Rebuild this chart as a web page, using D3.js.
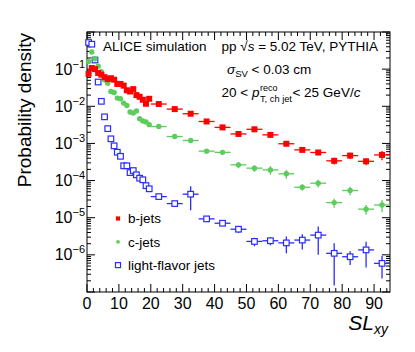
<!DOCTYPE html>
<html>
<head>
<meta charset="utf-8">
<script src="https://cdn.jsdelivr.net/npm/d3@7"></script>
<style>
  body { margin: 0; background: #fff; }
  text { font-family: 'Liberation Sans', Arial, Helvetica, sans-serif; fill: #000; }
</style>
</head>
<body>
<svg></svg>
<script>
// bin centres
const fineCenters = [0.5, 1.5, 2.5, 3.5, 4.5, 5.5, 6.5, 7.5, 8.5, 9.5, 10.5, 11.5, 12.5, 13.5, 14.5, 15.5, 16.5, 17.5, 18.5, 19.5]
const wideCenters = [22.5, 27.5, 32.5, 37.5, 42.5, 47.5, 52.5, 57.5, 62.5, 67.5, 72.5, 77.5, 82.5, 87.5, 92.5]
const fineBinWidth = 1
const wideBinWidth = 5

// b-jets
const bFine = [0.075, 0.107, 0.100, 0.079, 0.071, 0.061, 0.054, 0.057, 0.052, 0.040, 0.040, 0.036, 0.027, 0.025, 0.029, 0.020, 0.018, 0.015, 0.0117, 0.0159]
const bWide = [0.0115, 0.0084, 0.0063, 0.0039, 0.0027, 0.0018, 0.0024, 0.0017, 0.00098, 0.00067, 0.00057, 0.00034, 0.00047, 0.00033, 0.00049]
const bWideErr = [0.0003, 0.00025, 0.0002, 0.00015, 0.00012, 0.0001, 0.00014, 0.00012, 0.00009, 0.00008, 0.00009, 0.00007, 0.00009, 0.00007, 0.00014]

// c-jets
const cFine = [0.16, 0.29, 0.19, 0.12, 0.085, 0.052, 0.042, 0.025, 0.0235, 0.0166, 0.0159, 0.0122, 0.0105, 0.0070, 0.0066, 0.0075, 0.0046, 0.0040, 0.0038, 0.0032]
const cWide = [0.00285, 0.00153, 0.0012, 0.00062, 0.000575, 0.000265, 0.000216, 0.000194, 0.000152, 6.6e-5, 8.5e-5, 2.55e-5, 5.4e-5, 1.7e-5, 2.2e-5]
const cWideErr = [1e-4, 7e-5, 6e-5, 4e-5, 4e-5, 5e-5, 4.5e-5, 5e-5, 4e-5, 1.3e-5, 2e-5, 7e-6, 1.4e-5, 5e-6, 8e-6]

// light-flavor jets
const lFine = [0.52, 0.47, 0.176, 0.045, 0.0136, 0.0052, 0.0025, 0.00133, 0.00086, 0.00058, 0.00045, 0.00025, 0.00025, 0.000164, 0.000186, 0.000143, 0.000116, 0.000105, 7.3e-5, 6e-5]
const lWide = [3.7e-5, 2.4e-5, 4.3e-5, 9.3e-6, 7.1e-6, 4.9e-6, 2.3e-6, 2.4e-6, 2.1e-6, 2.5e-6, 3.4e-6, 1.1e-6, 8.9e-7, 1.36e-6, 5.9e-7]
const lWideErr = [4e-6, 3e-6, 2.7e-5, 1.6e-6, 1e-6, 1e-6, 6e-7, 6e-7, 1e-6, 1.1e-6, 2.4e-6, 9.5e-7, 3.6e-7, 9e-7, 3.6e-7]

// axes
const xTicks = [0, 10, 20, 30, 40, 50, 60, 70, 80, 90]
const yDecades = [1e-7, 1e-6, 1e-5, 1e-4, 1e-3, 1e-2, 1e-1, 1]
const yLabels = [1e-6, 1e-5, 1e-4, 1e-3, 1e-2, 1e-1]
const legendLabels = ['b-jets', 'c-jets', 'light-flavor jets']

const width = 415,
  height = 352
const frame = { left: 87, top: 32, right: 390, bottom: 292 }

const red = '#ff0000',
  green = '#5ccd5c',
  blue = '#2b2bff'

const svg = d3.select('svg')
  .attr('width', width)
  .attr('height', height)

svg.append('rect')
  .attr('width', width)
  .attr('height', height)
  .attr('fill', '#fff')

const x = d3.scaleLinear()
  .domain([0, 95])
  .range([frame.left, frame.right])

const y = d3.scaleLog()
  .domain([1e-7, 1])
  .range([frame.bottom, frame.top])

const xMinor = d3.range(0, 95, 2).filter(v => v % 10 !== 0)
const yMinor = []
yDecades.slice(0, -1).forEach(d => {
  for (let k = 2; k <= 9; k++) yMinor.push(d * k)
})

// ticks on all four sides, pointing inwards
const tickGroup = svg.append('g')
  .attr('stroke', '#000')
  .attr('stroke-width', 1)

function tickLines(vals, len, side) {
  tickGroup.selectAll(null)
    .data(vals)
    .enter().append('line')
    .attr('x1', d => side === 'bottom' || side === 'top' ? x(d) : side === 'left' ? frame.left : frame.right)
    .attr('x2', d => side === 'bottom' || side === 'top' ? x(d) : side === 'left' ? frame.left + len : frame.right - len)
    .attr('y1', d => side === 'bottom' ? frame.bottom : side === 'top' ? frame.top : y(d))
    .attr('y2', d => side === 'bottom' ? frame.bottom - len : side === 'top' ? frame.top + len : y(d))
}

tickLines(xTicks, 8, 'bottom')
tickLines(xMinor, 4, 'bottom')
tickLines(xTicks, 8, 'top')
tickLines(xMinor, 4, 'top')
tickLines(yDecades, 8, 'left')
tickLines(yMinor, 4, 'left')
tickLines(yDecades, 8, 'right')
tickLines(yMinor, 4, 'right')

svg.append('rect')
  .attr('x', frame.left)
  .attr('y', frame.top)
  .attr('width', frame.right - frame.left)
  .attr('height', frame.bottom - frame.top)
  .attr('fill', 'none')
  .attr('stroke', '#000')
  .attr('stroke-width', 1)

// tick labels
svg.selectAll('.x-label')
  .data(xTicks)
  .enter().append('text')
  .attr('class', 'x-label')
  .attr('x', d => x(d))
  .attr('y', frame.bottom + 17)
  .attr('text-anchor', 'middle')
  .style('font-size', '16px')
  .text(d => d)

const yLab = svg.selectAll('.y-label')
  .data(yLabels)
  .enter().append('text')
  .attr('class', 'y-label')
  .attr('x', frame.left - 2)
  .attr('y', d => y(d) + 5.5)
  .attr('text-anchor', 'end')
  .style('font-size', '16px')

yLab.append('tspan').text('10')
yLab.append('tspan')
  .attr('dy', -7)
  .style('font-size', '11px')
  .text(d => '\u2212' + Math.round(-Math.log10(d)))

// axis titles
svg.append('text')
  .attr('transform', `translate(31,${frame.top + 1}) rotate(-90)`)
  .attr('text-anchor', 'end')
  .style('font-size', '19px')
  .text('Probability density')

const xTitle = svg.append('text')
  .attr('x', frame.right - 2)
  .attr('y', 330)
  .attr('text-anchor', 'end')
  .style('font-size', '21px')
  .style('font-style', 'italic')
xTitle.append('tspan').text('SL')
xTitle.append('tspan')
  .attr('dy', 4)
  .style('font-size', '14px')
  .text('xy')

// data
const plot = svg.append('g')

function drawSeries(centers, binWidth, values, errs, color, marker) {
  const pts = centers.map((c, i) => ({ x: c, v: values[i], e: errs ? errs[i] : 0 }))
  const g = plot.append('g')

  g.selectAll('.hbar')
    .data(pts)
    .enter().append('line')
    .attr('x1', d => x(d.x - binWidth / 2))
    .attr('x2', d => x(d.x + binWidth / 2))
    .attr('y1', d => y(d.v))
    .attr('y2', d => y(d.v))
    .attr('stroke', color)
    .attr('stroke-width', 1.3)

  g.selectAll('.vbar')
    .data(pts.filter(d => d.e > 0))
    .enter().append('line')
    .attr('x1', d => x(d.x))
    .attr('x2', d => x(d.x))
    .attr('y1', d => y(Math.max(d.v - d.e, 1e-7)))
    .attr('y2', d => y(d.v + d.e))
    .attr('stroke', color)
    .attr('stroke-width', 1.3)

  drawMarkers(g, pts.map(d => [x(d.x), y(d.v)]), color, marker, 1)
}

function drawMarkers(g, pos, color, marker, scale) {
  if (marker === 'circle') {
    g.selectAll(null)
      .data(pos)
      .enter().append('circle')
      .attr('cx', d => d[0])
      .attr('cy', d => d[1])
      .attr('r', 2.7 * scale)
      .attr('fill', color)
  } else {
    const s = (marker === 'open' ? 5.6 : 6) * scale
    g.selectAll(null)
      .data(pos)
      .enter().append('rect')
      .attr('x', d => d[0] - s / 2)
      .attr('y', d => d[1] - s / 2)
      .attr('width', s)
      .attr('height', s)
      .attr('fill', marker === 'open' ? '#fff' : color)
      .attr('stroke', marker === 'open' ? color : 'none')
      .attr('stroke-width', 1.2)
  }
}

drawSeries(fineCenters, fineBinWidth, lFine, null, blue, 'open')
drawSeries(wideCenters, wideBinWidth, lWide, lWideErr, blue, 'open')
drawSeries(fineCenters, fineBinWidth, cFine, null, green, 'circle')
drawSeries(wideCenters, wideBinWidth, cWide, cWideErr, green, 'circle')
drawSeries(fineCenters, fineBinWidth, bFine, null, red, 'square')
drawSeries(wideCenters, wideBinWidth, bWide, bWideErr, red, 'square')

// legend
const legendColors = [red, green, blue]
const legendMarkers = ['square', 'circle', 'open']
const legend = svg.append('g')
legendLabels.forEach((label, i) => {
  const ly = 218.5 + i * 23.3
  drawMarkers(legend, [[118, ly]], legendColors[i], legendMarkers[i], i === 2 ? 0.9 : 0.7)
  legend.append('text')
    .attr('x', 128)
    .attr('y', ly + 4.8)
    .style('font-size', '13.5px')
    .text(label)
})

// annotations
svg.append('text')
  .attr('x', 103)
  .attr('y', 51)
  .style('font-size', '13.5px')
  .text('ALICE simulation')

const energy = svg.append('text')
  .attr('x', 221.5)
  .attr('y', 51)
  .style('font-size', '13.5px')
energy.append('tspan').text('pp \u221A')
energy.append('tspan').style('font-style', 'italic').text('s')
energy.append('tspan').text(' = 5.02 TeV, PYTHIA')

const sigma = svg.append('text')
  .attr('x', 227)
  .attr('y', 74)
  .style('font-size', '13.5px')
sigma.append('tspan').style('font-style', 'italic').text('\u03C3')
sigma.append('tspan').attr('dy', 3).style('font-size', '9.5px').text('SV')
sigma.append('tspan').attr('dy', -3).text(' < 0.03 cm')

// pT range line with stacked super/subscript
const ptY = 96.5
const ptStart = svg.append('text')
  .attr('x', 221.5)
  .attr('y', ptY)
  .style('font-size', '13.5px')
ptStart.append('tspan').text('20 < ')
ptStart.append('tspan').style('font-style', 'italic').text('p')
const ptX = 221.5 + ptStart.node().getComputedTextLength() + 0.5

const sup = svg.append('text')
  .attr('x', ptX)
  .attr('y', ptY - 6)
  .style('font-size', '9px')
  .text('reco')
const sub = svg.append('text')
  .attr('x', ptX)
  .attr('y', ptY + 5)
  .style('font-size', '9.3px')
  .text('T, ch jet')
const restX = ptX + Math.max(sup.node().getComputedTextLength(), sub.node().getComputedTextLength()) + 0.5

const ptEnd = svg.append('text')
  .attr('x', restX)
  .attr('y', ptY)
  .style('font-size', '13.5px')
ptEnd.append('tspan').text('< 25 GeV/')
ptEnd.append('tspan').style('font-style', 'italic').text('c')
</script>
</body>
</html>
